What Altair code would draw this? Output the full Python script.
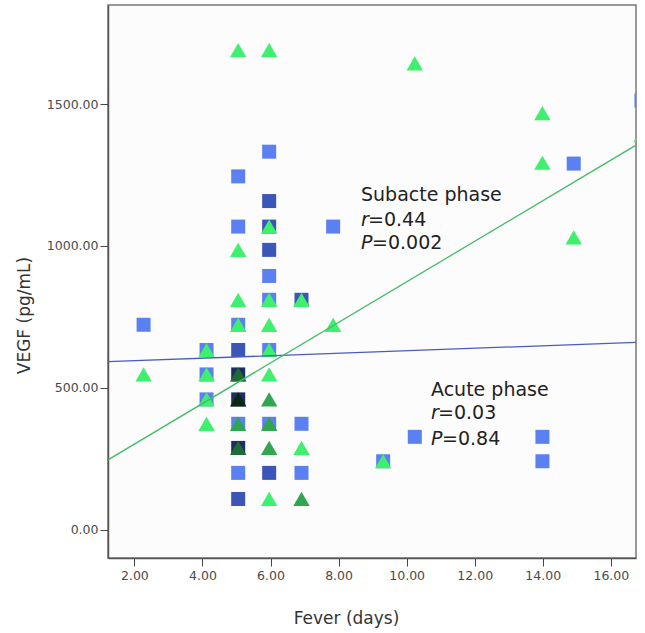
import altair as alt
import pandas as pd

# ---- data ----
# Acute phase (blue squares); repeated pairs = overlapping patients
acute_x = [2.27, 4.12, 4.12, 4.12,
           5.05, 5.05, 5.05, 5.05, 5.05, 5.05, 5.05, 5.05, 5.05, 5.05, 5.05,
           5.05, 5.05, 5.05, 5.05, 5.05, 5.05, 5.05,
           5.96, 5.96, 5.96, 5.96, 5.96, 5.96, 5.96, 5.96, 5.96, 5.96, 5.96,
           5.96, 5.96,
           6.91, 6.91, 6.91, 6.91,
           7.84, 9.31, 10.24, 13.99, 13.99, 14.91, 16.9]
acute_y = [722, 633, 547, 459,
           1245, 1068, 722, 633, 633, 547, 547, 547, 459, 459, 459,
           373, 288, 288, 288, 200, 108, 108,
           1332, 1158, 1158, 1068, 1068, 986, 986, 894, 810, 633, 373,
           200, 200,
           810, 810, 373, 200,
           1068, 241, 327, 327, 241, 1290, 1512]

# Subacute phase (green triangles)
sub_x = [2.27, 4.12, 4.12, 4.12, 4.12,
         5.05, 5.05, 5.05, 5.05, 5.05, 5.05, 5.05, 5.05, 5.05, 5.05,
         5.05, 5.05, 5.05, 5.05, 5.05, 5.05,
         5.96, 5.96, 5.96, 5.96, 5.96, 5.96, 5.96, 5.96, 5.96, 5.96,
         5.96, 5.96, 5.96,
         6.91, 6.91, 6.91, 6.91,
         7.84, 9.31, 10.24, 13.99, 13.99, 14.91, 16.9]
sub_y = [547, 633, 547, 459, 373,
         1690, 986, 810, 722, 547, 547, 547, 459, 459, 459,
         459, 373, 373, 288, 288, 288,
         1690, 1068, 810, 722, 633, 547, 459, 459, 373, 373,
         288, 288, 108,
         810, 288, 108, 108,
         722, 241, 1643, 1468, 1293, 1030, 1390]

# fitted lines read at the plot edges
fit_x = [1.224, 16.74]
acute_fit = [592, 660]
sub_fit = [246, 1355]

# shades for 1..4 overlapping markers
acute_keys = ["Acute 1", "Acute 2", "Acute 3", "Acute 4"]
acute_cols = ["#5b80f0", "#3b56b8", "#1e2d62", "#0c1430"]
sub_keys = ["Subacute 1", "Subacute 2", "Subacute 3", "Subacute 4"]
sub_cols = ["#3ef06e", "#2fa64f", "#1f6b35", "#0c2616"]

pts = pd.concat([
    pd.DataFrame({"x": acute_x, "y": acute_y, "phase": "Acute"}),
    pd.DataFrame({"x": sub_x, "y": sub_y, "phase": "Subacute"}),
], ignore_index=True)

fits = pd.concat([
    pd.DataFrame({"x": fit_x, "y": acute_fit, "phase": "Acute"}),
    pd.DataFrame({"x": fit_x, "y": sub_fit, "phase": "Subacute"}),
], ignore_index=True)

xs = alt.Scale(domain=[1.224, 16.74], nice=False, zero=False)
ys = alt.Scale(domain=[-100, 1849], nice=False, zero=False)

x_axis = alt.Axis(values=[2, 4, 6, 8, 10, 12, 14, 16], format=".2f", title="Fever (days)",
                  grid=False, tickSize=8, labelPadding=3, labelFontSize=12.5,
                  labelColor="#4a4a4a", labelFont="DejaVu Sans", tickColor="#444",
                  domainColor="#555", domainWidth=1.5, titleFont="DejaVu Sans",
                  titleFontSize=17, titleFontWeight="normal", titleColor="#333",
                  titleX=238, titleY=60, titleBaseline="middle", titleAlign="center")
y_axis = alt.Axis(values=[0, 500, 1000, 1500], format=".2f", title="VEGF (pg/mL)",
                  grid=False, tickSize=8, labelPadding=2, labelFontSize=12.5,
                  labelColor="#4a4a4a", labelFont="DejaVu Sans", tickColor="#444",
                  domainColor="#555", domainWidth=1.5, titleFont="DejaVu Sans",
                  titleFontSize=17, titleFontWeight="normal", titleColor="#333",
                  titleAngle=-90, titleX=-84, titleY=310, titleBaseline="middle",
                  titleAlign="center")

base = alt.Chart(pts).transform_aggregate(
    n="count()", groupby=["phase", "x", "y"]
).transform_calculate(key="datum.phase + ' ' + min(datum.n, 4)")

color = alt.Color("key:N", scale=alt.Scale(domain=acute_keys + sub_keys,
                                           range=acute_cols + sub_cols), legend=None)

squares = base.transform_filter(alt.datum.phase == "Acute").mark_point(
    shape="square", filled=True, size=196, opacity=1, clip=True
).encode(x=alt.X("x:Q", scale=xs, axis=x_axis), y=alt.Y("y:Q", scale=ys, axis=y_axis),
         color=color)

triangles = base.transform_filter(alt.datum.phase == "Subacute").mark_point(
    shape="triangle-up", filled=True, size=270, opacity=1, clip=True
).encode(x=alt.X("x:Q", scale=xs, axis=x_axis), y=alt.Y("y:Q", scale=ys, axis=y_axis),
         color=color)

lines = alt.Chart(fits).mark_line(strokeWidth=1.3, clip=True).encode(
    x=alt.X("x:Q", scale=xs, axis=x_axis), y=alt.Y("y:Q", scale=ys, axis=y_axis),
    detail="phase:N",
    color=alt.Color("phase:N", scale=alt.Scale(domain=["Acute", "Subacute"],
                                               range=["#4b5cbf", "#45bb68"]), legend=None)
)

one = pd.DataFrame({"a": [0]})


def label(text, px, py, italic=False, dx=0):
    return alt.Chart(one).mark_text(
        text=text, align="left", baseline="middle", dx=dx, font="DejaVu Sans",
        fontSize=19, fontStyle="italic" if italic else "normal", color="#222"
    ).encode(x=alt.value(px), y=alt.value(py))


texts = [
    label("Subacte phase", 253, 190),
    label("r", 253, 215, italic=True),
    label("=0.44", 253, 215, dx=7),
    label("P", 253, 238, italic=True),
    label("=0.002", 253, 238, dx=11),
    label("Acute phase", 323, 385),
    label("r", 323, 408, italic=True),
    label("=0.03", 323, 408, dx=7),
    label("P", 323, 434, italic=True),
    label("=0.84", 323, 434, dx=11),
]

chart = alt.layer(squares, triangles, lines, *texts).resolve_scale(color="independent").properties(
    width=528, height=553,
    autosize=alt.AutoSizeParams(type="none"),
    padding={"left": 108, "top": 5, "right": 9, "bottom": 75},
    background="white",
).configure_view(stroke="#777", strokeWidth=1.5, fill="#fcfcfc")

chart.save("out.html", embed_options={"renderer": "svg", "actions": False})
